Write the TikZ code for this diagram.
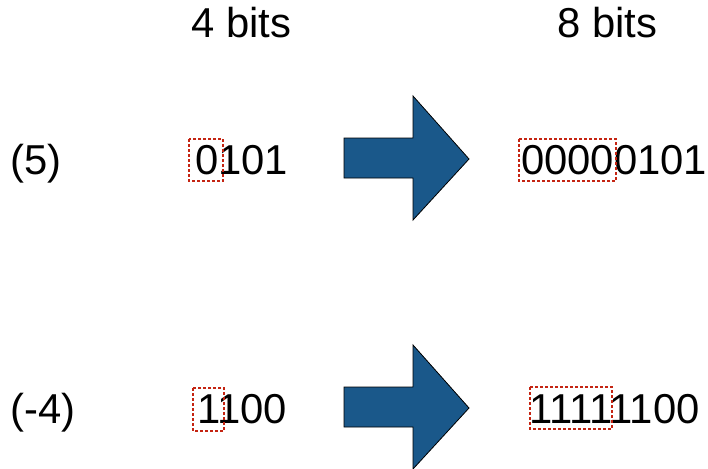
\documentclass[tikz,border=0pt]{standalone}
\usepackage{fontspec}
\setmainfont{Liberation Sans}
\definecolor{arrowblue}{RGB}{26,88,138}
\definecolor{boxred}{RGB}{196,36,18}
\begin{document}
\begin{tikzpicture}[x=1pt,y=-1pt,
  txt/.style={anchor=base west,inner sep=0pt,font=\fontsize{41.8}{50}\selectfont},
  bigarrow/.style={fill=arrowblue,draw=black,line width=0.8pt,line join=miter},
  dotbox/.style={draw=boxred,line width=2.6pt,dash pattern=on 2.6pt off 2.4pt}]
\useasboundingbox (0,0) rectangle (708,468);
% headers
\node[txt] (h4) at (191,38) {4 bits};
\node[txt] (h8) at (557,38) {8 bits};
% row 1
\node[txt] (l5) at (10,174) {(5)};
\node[txt] (a4) at (195,174) {0101};
\node[txt] (a8) at (521,174) {00000101};
\draw[dotbox] (189,139) rectangle (223,181);
\draw[dotbox] (519,139) rectangle (616,181);
\draw[bigarrow] (344,138) -- (413,138) -- (413,96) -- (469,159) -- (413,220) -- (413,178) -- (344,178) -- cycle;
% row 2
\node[txt] (l4) at (10,423) {(-4)};
\node[txt] (b4) at (197,423) {1100};
\node[txt] (b8) at (529,423) {11111100};
\draw[dotbox] (193,388) rectangle (224,431);
\draw[dotbox] (530,387) rectangle (612,429);
\draw[bigarrow] (344,387) -- (413,387) -- (413,345) -- (469,408) -- (413,469) -- (413,427) -- (344,427) -- cycle;
\end{tikzpicture}
\end{document}
